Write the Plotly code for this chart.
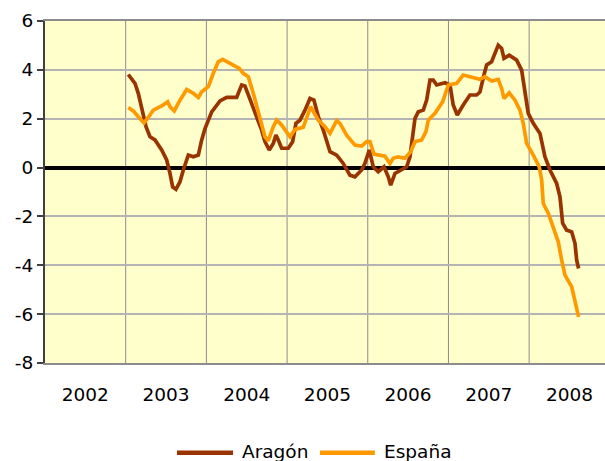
import plotly.graph_objects as go

# Time axis in decimal years
aragon_t = [2003.032, 2003.115, 2003.156, 2003.218, 2003.252, 2003.301, 2003.363, 2003.446, 2003.508,
            2003.549, 2003.582, 2003.623, 2003.673, 2003.714, 2003.776, 2003.838, 2003.900, 2003.942,
            2003.983, 2004.066, 2004.169, 2004.252, 2004.375, 2004.437, 2004.478, 2004.540, 2004.623,
            2004.685, 2004.726, 2004.779, 2004.829, 2004.862, 2004.891, 2004.933, 2005.015, 2005.069,
            2005.110, 2005.160, 2005.222, 2005.284, 2005.333, 2005.387, 2005.449, 2005.532, 2005.615,
            2005.696, 2005.779, 2005.841, 2005.924, 2005.965, 2006.019, 2006.068, 2006.130, 2006.201,
            2006.254, 2006.284, 2006.337, 2006.420, 2006.482, 2006.523, 2006.556, 2006.585, 2006.626,
            2006.688, 2006.730, 2006.771, 2006.812, 2006.854, 2006.957, 2007.019, 2007.059, 2007.109,
            2007.183, 2007.266, 2007.349, 2007.390, 2007.440, 2007.473, 2007.535, 2007.617, 2007.659,
            2007.688, 2007.753, 2007.845, 2007.907, 2007.948, 2007.989, 2008.051, 2008.134, 2008.196,
            2008.258, 2008.341, 2008.382, 2008.415, 2008.465, 2008.527, 2008.568, 2008.589, 2008.613]
aragon_v = [3.81, 3.45, 3.04, 2.22, 1.67, 1.26, 1.13, 0.72, 0.31,
            -0.24, -0.79, -0.89, -0.58, -0.10, 0.51, 0.44, 0.51, 1.13,
            1.60, 2.28, 2.73, 2.87, 2.87, 3.38, 3.34, 2.80, 2.08,
            1.53, 1.06, 0.72, 0.99, 1.33, 1.13, 0.79, 0.79, 1.06,
            1.81, 1.94, 2.35, 2.83, 2.76, 2.08, 1.53, 0.65, 0.51,
            0.17, -0.31, -0.38, -0.10, 0.17, 0.72, 0.03, -0.17, 0.03,
            -0.38, -0.72, -0.24, -0.10, 0.03, 0.44, 1.26, 2.01, 2.28,
            2.35, 2.76, 3.58, 3.58, 3.38, 3.47, 3.38, 2.56, 2.15,
            2.56, 2.97, 2.97, 3.09, 3.79, 4.20, 4.33, 5.01, 4.88,
            4.47, 4.60, 4.40, 3.99, 3.17, 2.22, 1.81, 1.40, 0.44,
            -0.10, -0.65, -1.20, -2.28, -2.56, -2.63, -3.10, -3.79, -4.13]

espana_t = [2003.032, 2003.094, 2003.156, 2003.227, 2003.280, 2003.342, 2003.446, 2003.520, 2003.549,
            2003.602, 2003.673, 2003.756, 2003.838, 2003.900, 2003.942, 2004.024, 2004.086, 2004.147,
            2004.202, 2004.292, 2004.408, 2004.457, 2004.519, 2004.581, 2004.664, 2004.726, 2004.767,
            2004.829, 2004.871, 2004.933, 2005.036, 2005.098, 2005.201, 2005.292, 2005.387, 2005.470,
            2005.532, 2005.615, 2005.656, 2005.738, 2005.841, 2005.924, 2005.986, 2006.027, 2006.077,
            2006.151, 2006.213, 2006.275, 2006.316, 2006.378, 2006.461, 2006.532, 2006.585, 2006.668,
            2006.721, 2006.750, 2006.833, 2006.928, 2006.998, 2007.102, 2007.183, 2007.266, 2007.390,
            2007.452, 2007.535, 2007.617, 2007.659, 2007.688, 2007.753, 2007.824, 2007.886, 2007.927,
            2007.969, 2008.051, 2008.125, 2008.155, 2008.175, 2008.237, 2008.299, 2008.361, 2008.403,
            2008.444, 2008.527, 2008.568, 2008.613]
espana_v = [2.46, 2.32, 2.08, 1.83, 2.05, 2.35, 2.52, 2.69, 2.49,
            2.32, 2.76, 3.20, 3.04, 2.87, 3.10, 3.31, 3.86, 4.33,
            4.43, 4.27, 4.06, 3.86, 3.72, 3.04, 2.08, 1.26, 1.10,
            1.67, 1.94, 1.74, 1.26, 1.56, 1.65, 2.49, 1.94, 1.67,
            1.40, 1.92, 1.81, 1.33, 0.92, 0.88, 1.06, 1.06, 0.55,
            0.51, 0.47, 0.17, 0.38, 0.44, 0.38, 0.65, 1.06, 1.13,
            1.47, 1.94, 2.22, 2.69, 3.38, 3.45, 3.79, 3.72, 3.61,
            3.72, 3.54, 3.61, 3.24, 2.83, 3.06, 2.76, 2.35, 1.81,
            0.99, 0.51, 0.03, -0.51, -1.47, -1.87, -2.42, -3.04, -3.79,
            -4.40, -4.88, -5.42, -6.11]

years = [2002, 2003, 2004, 2005, 2006, 2007, 2008]
y_ticks = [-8, -6, -4, -2, 0, 2, 4, 6]
series_names = ["Aragón", "España"]
series_colors = ["#993300", "#FF9900"]

FONT = dict(family="DejaVu Sans, Arial, sans-serif", size=18.5, color="black")

fig = go.Figure()
fig.add_trace(go.Scatter(x=aragon_t, y=aragon_v, mode="lines", name=series_names[0],
                         line=dict(color=series_colors[0], width=3.7), showlegend=False))
fig.add_trace(go.Scatter(x=espana_t, y=espana_v, mode="lines", name=series_names[1],
                         line=dict(color=series_colors[1], width=3.7), showlegend=False))

# vertical gridlines at year boundaries
for yr in years[1:]:
    fig.add_shape(type="line", xref="x", yref="paper", x0=yr, x1=yr, y0=0, y1=1,
                  line=dict(color="#8c8c8c", width=1), layer="below")

# legend drawn below the plot: line sample + label
legend_items = [(0.2357, 0.3357, 0.3482), (0.491, 0.589, 0.6018)]
leg_y = -0.2623
for (x0, x1, xt), name, col in zip(legend_items, series_names, series_colors):
    fig.add_shape(type="line", xref="paper", yref="paper", x0=x0, x1=x1, y0=leg_y, y1=leg_y,
                  line=dict(color=col, width=4.5))
    fig.add_annotation(xref="paper", yref="paper", x=xt, y=leg_y + 0.004, text=name,
                       showarrow=False, xanchor="left", yanchor="middle", font=FONT)

fig.update_layout(
    template="none",
    width=605, height=461,
    margin=dict(l=45, r=0, t=21, b=98, autoexpand=False),
    paper_bgcolor="white",
    plot_bgcolor="#FFFFCC",
    font=FONT,
    showlegend=False,
    xaxis=dict(
        range=[2002, 2008.94],
        tickvals=[y + 0.5 for y in years],
        ticktext=[str(y) for y in years],
        showgrid=False, zeroline=False, automargin=False,
        ticks="outside", ticklen=14, tickcolor="rgba(0,0,0,0)",
        showline=True, linecolor="#8c8c8c", linewidth=1.5, mirror=True,
        tickfont=FONT,
    ),
    yaxis=dict(
        range=[-8, 6],
        tickvals=y_ticks,
        ticktext=[str(v) for v in y_ticks],
        showgrid=True, gridcolor="#b4b4b4", gridwidth=1.5,
        zeroline=True, zerolinecolor="black", zerolinewidth=4,
        showline=True, linecolor="#404040", linewidth=2,
        ticks="outside", ticklen=6, tickcolor="#404040", tickwidth=2,
        automargin=False,
        tickfont=FONT,
    ),
)

fig.write_html("out.html", config={"displayModeBar": False},
               post_script="document.body.style.margin='0';document.body.style.overflow='hidden';")
